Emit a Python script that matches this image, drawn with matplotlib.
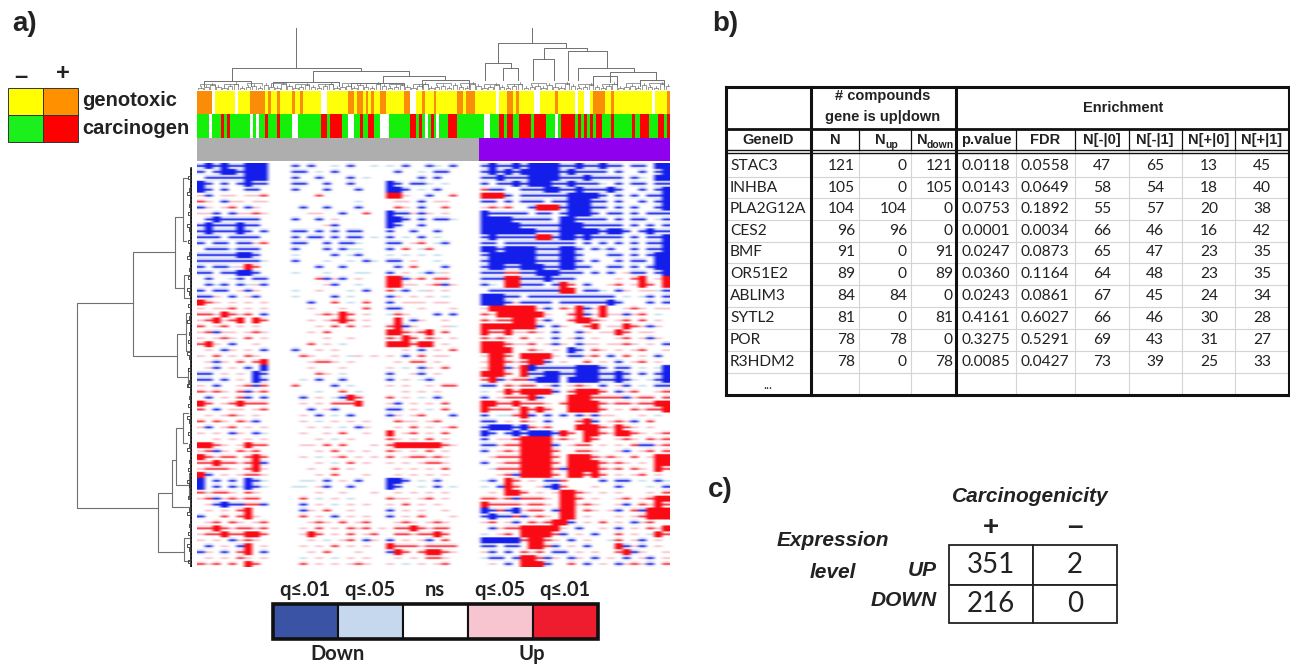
import numpy as np
import matplotlib
matplotlib.use('Agg')
import matplotlib.pyplot as plt
from matplotlib.patches import Rectangle

NARROW = ['Liberation Sans']
BODY = ['Lato', 'DejaVu Sans']

# a) sample annotation bars, runs of (class, number of compounds)
genotoxic_runs = [('o',5),('w',1),('y',7),('w',1),('y',4),('o',5),('y',1),('o',1),('y',2),('o',1),('y',4),('o',1),
                  ('y',2),('o',1),('y',6),('w',2),('y',7),('o',2),('y',1),('o',1),('o',1),('y',1),('o',1),('y',1),
                  ('o',1),('y',2),('o',2),('y',6),('o',2),('w',2),('y',2),('o',1),('y',3),('o',1),('y',7),('o',2),
                  ('y',1),('o',3),('y',2),('y',5),('w',1),('y',3),('o',2),('y',1),('o',1),('y',5),('w',2),('y',5),
                  ('o',1),('y',6),('w',1),('y',2),('w',2),('y',1),('o',4),('y',2),('o',1),('y',13),('w',1),('y',4),('o',1)]
carcinogen_runs = [('g',4),('w',1),('g',3),('r',1),('g',1),('r',1),('g',7),('w',1),('g',1),('w',1),('g',2),('r',1),
                   ('g',3),('r',1),('g',4),('w',2),('g',8),('r',2),('g',1),('r',4),('g',2),('w',2),('g',2),('r',1),
                   ('g',2),('r',2),('g',2),('w',3),('g',7),('r',2),('g',1),('r',1),('g',1),('w',1),('g',1),('r',1),
                   ('g',1),('w',1),('g',3),('r',3),('g',9),('w',2),('g',3),('r',2),('g',1),('r',2),('g',2),('r',4),
                   ('g',1),('r',4),('g',3),('w',1),('g',1),('r',5),('g',1),('r',1),('g',1),('r',1),('g',1),('r',1),
                   ('g',1),('r',2),('g',3),('r',1),('g',6),('r',1),('g',2),('r',3),('g',3),('r',2),('g',1),('r',1)]
cluster_runs = [('a',95.5),('p',64.5)]

# a) heatmap, coarse cells: B/b down, , weak down, . ns, ' weak up, r/R up
heat_top = [
 "bBbBbbBBB ... b.b..,.b..,. ,.b..b,.b ... bBbbB bBBBB bbBbbB bb.bb.BB",
 "b.bBBbBBB ... bb.,.b...... .b..,.bb. ... bBbBb BBBBB bBbbbb .b..b.bB",
 ".bbbbbBBB ... b..b...b.,.. ....b.b.. ... bbBbb bBBBB bbbBbb bb.b,.BB",
 "Bb.b.bBbb ... bb..b..b.... Bb.bb,.,. ... b.bbB bBBBb bBbbb, .b.bb.bb",
 "Bb.b..bb. ... b...b...b... BBb.,.b.. ... rbb.. bbbBB bbBbbb Bb..b.bB",
 "'b.''.''r ... ...r........ RR'..b..r ... RRRb. bbbbb bBBBBb .b.b.bbB",
 "r'.b''.'' ... ........,... .''.b.''. ... bb.b. bbb.b bBBBbb .b..b.bB",
 "b'.'r.b'. ... .b..b...b... .r'.b..r. ... 'r'r. .bRRR bBBBbb .b.b..bB",
 "''b.b''r' ... ..''..b..r.. Bbb'b'.'. ... Bbbbb b.bb. bBBBb. bb.b.bbb",
 ".bBbbbbb. ... b..b.'...... BBb.b.bb, ... BBBBb bbbb. BBbbbb .b.bb.,b",
 "bBbbbBbb. ... ....'b...... Bb..b.... ... BBBBB bbbbb BBBbbb bb.b.b.b",
 "bBbbbBb.b ... bb.b.b.bb... b..b..b.. ... BBBBB BBbbb BBBBBb BBb.bBbb",
 "bbb.bbbb. ... b.bb.b.bb.,. b.,.b.,.. ... bBbbb bbRRb BBbBbb bb.b.bbB",
 "b.bb.bb'r ... bb..b.bb,... bb.'r.,b. ... bb.bb bbbbb bb.b.b .b.b.bbB",
 ".bbb,bbb. ... b...b.b,,... b.r.,r... ... BBbBB BBbbb BBb.b, b..b.bbB",
 "bbbbbBBb. ... ,....b.,b... ,.,.,.,.. ... bBBBB BBbbb BBb... bb.b.bBB",
 "bbbbbbbb, ... b...,..,.b,. bb.'..,.. ... bBBBB BBbbb BBb.b. .b.bb.BB",
 "b.bb,'Rr. ... ...b..b..... .b.r...b. ... bBBbb BBBbb BBbb.. bb.b.bBB",
 "bb.bbBBb. ... ,...,...,,.. b.'.,b,'. ... bbbrr bbBBB bbb.b. b.'bb.bB",
 ".b..,b.bb ... ...rb'b.'... RRb'r.rr. ... bbbRR bbbBb bb.... .'.rR.'R",
 ".b,b.b,'b ... ....'b..,... RR''.'rb' ... b,.RR bbb.b Rr.b.. 'r.'Rr.R",
 "b.bb.'b'. ... ,..'...,.b.. r,b.,'.'. ... .bbbb bbbbb RR.bb, .b'.'',b",
 "bb'.b.'b. ... ,....b.,.... b'.'.'.,. ... BBBbb .bbbb bbbbbb b.,.,b.b",
 "Rr'.'.'.' ... ..b..r.,.r.. b.'''.''. ... BBBb' bbbb. bbbbbb Bb...b.b",
 "'.''r.'.' ... ..'...'..r.. bb..'...' ... 'RRRR RR'b. r'Rb'R ..'r'.''",
 "rr'Rr'r.b ... ...'r'Rr.'.. ,r'...b.b ... r'RRR RRR'. .rRb'R ''b'r.,.",
 "'rR'rR.Rr ... ..'.'rRr.'.. .R.b'..'. ... r'rrR RR'b. .rRRr' .'r.r.'.",
 "r.'r.'.'. ... ...'.r.r.'.. rRb'...', ... RRRRR RRb.b '..rR. ''Rr'b'.",
 "'rb''.'r' ... ..'.r....... RRr'rR.r. ... RrrR' 'r'.b ..b'.' 'Rr.''..",
 "'.'r'.r.' ... ....'..'.... r'Rr.r'.' ... r'r'. r.'.b .'b.'. .'r.'b'.",
 "rR'.b..'. ... ..r.'.,..... RRRrRR.'. ... RRRr' 'r.'b '.b''. ''r'.'.b",
 ".'.b'.'.b ... b..'.'...... ..'.b.'.r ... RRRR. .r'.' .Bb.r' .'.'r..'",
 "'.r.'.r'. ... .r'..'.,'.'. '.b.r.''. ... 'RRr. RRRR' .bb'r. b.r.'.b.",
 ".'b'.r.rR ... ..'rr'.'.... .'.rr.'.. ... 'RRr' rRRb. '..r.' .b.'r.'.",
]
heat_bottom = [
 ".'b.'.b.B ... ..'...'..... '.,.b'.r. ... 'RRb' RBbbb bbBBBb .bb.,.,B",
 "bb.'.'.Bb ... ...r'.,..... b..'b.'.. ... RRRr. RbbBB bbBBBb bBb.b.bB",
 "bb.b.'.Bb ... .,.b..b..... b.'.,b... ... rRb'r rbBBB .BBBBb bBb,.,bB",
 "'.b..'rbr ... r....b.,.... '.'..'.rr ... bb.r' rr.'b .'r'.b .'b.,.bb",
 "r'r'.rb'r ... ...,..r.,... ..'.'.'.. ... ,.'Rr RRRRb .rRRRr .b'r..'r",
 ".b.'.rb.b ... .b.'.,bRr... r.'.,.b.. ... b.'rr rRb.. .RRRrr rrb'rr.r",
 "Rr.'rRrrr ... .'.'.rrrR... 'b.'.'.r. ... RRrrR rrr'. rRRRRr 'rr'rrRR",
 "r.b.''.'r ... ..b.'b...... bb.'.,.r. ... Rrrr' RrRr. .RRRRr .'.r'rrR",
 ".'.'r'.'. ... .'.b.,.b.... b'.'r...b ... b.,,r Rb.b. b.b'b' '...'.,.",
 "r.r'.r'b. ... .'.,.'.'.'.. .r''.'r.. ... bb.'. r'.b. ..rRb. 'r'b.r..",
 "'b.'r.'.' ... ..'.'.,.b'.. .'.r.'.'r ... bBBBb Br'r. ..RRRr 'Rr'.'..",
 "'.'.b'.b, ... .'..'.r..'.. R.'r.'.r. ... Bb.bB bBBBb Rr.RRr 'RRr'.'r",
 "..'.'.'.' ... ...'.,.'.... r'.'.r.'. ... b.''r RRRR' r'.Rr. .'r'.r'r",
 "RRr'.'Rrr ... .''.r.r...'. rRRRRRRr' ... bb'rr RRRRb .'rr.' .'.rbb'r",
 "'rb'.r'r. ... ...'.r.'.'.. r'.'.r.'. ... b.'r' RRRRr ..rr'. .'b.'r.r",
 "Rr'rr.rRr ... .'.,.'r.'.'. r.'rr'r'. ... .'rrr RRRRr .RRRr' r'.r.'RR",
 "rrRrr'rRb ... ...'.,.r.'.. '.'.'rr'. ... b.'rr RRRRr .RRRRr 'r'.'.RR",
 "'rrr'.rR' ... ..'..r.'.... .'.'.'.r. ... .,rrr RRRRr bRRRRr 'r.r'.Rr",
 "Rb.'.'rr' ... ...'.r...'.. .'.'.'.'. ... ..'rb RRRRr .RRrRr .'.'r.'.",
 "B.b.b.Bb, ... .,,.b.'.b... BBb.,.b.. ... ,b.Rr .'.bb r....b .bb.,.b,",
 "B.b.b,Bb, ... ,,.'b..b.... Bb..,.b., ... ,.bRr ..'bB r...'. .b...,.b",
 "r'rr'.r'. ... ...'..'...'. .'.'.'.'. ... .'.RR r.'.' RRr'.' .'...'.r",
 "'rb'r'rr. ... .r.,.'.,.... r''.'r.'. ... rr'rb rrr'. RRr.'. .'r.'rRR",
 ".'bBbbrrb ... .b.'.,.'.'.. '.r.'.'.. ... Rrrrr 'rr'. RR'r'. .'b.r'Rr",
 ".'.'.rR.. ... .b'.r..'.... b.'.'..'. ... BbrbB 'rr.b RR.r'. 'b.rbRRR",
 "b..r.rR'. ... .r.'.b.'.'.. b.'.r...' ... bBbbr b'r'. RR.'.. .'.'rRRR",
 ".'r.r'.'r ... ..'r'.r.'r.. .'r'.'r'. ... 'r.'b .r'rR Rb.'.r .'.b'r..",
 "rrRr'rr'r ... .'.r.'.r'r.' .rrRr'rr. ... .b'rr RRRRR '.b..' .b.'.r'R",
 "'rrRrrRRr ... .'Rr.'.r.'r. .rr'rrRr. ... ,.'r. RRRRr b.'.b. .r.'.,Rr",
 "'.'.b'r'. ... ..'.,.'r.b'. b.'.'b.r. ... BBBBB rRRr' .b.'.. ,r.'b.'.",
 ".b.'.bR.' ... .'.'.r.'.'.. Rrrr'rrrr ... bb.bb .RRrb .'.b.. .Rb'b.'.",
 "b'.b.rR.b ... ..'.r...'... bRr.rRRr' ... 'b.b. r'r.b b.'.'. .rRb'..'",
 ".'.'.r'.' ... .,.'.,.'.'.. .'.'.rr'. ... ,bb.b RRrb' .b'.b. '.b.'b.'",
 "r'r.r.Rr. ... .r.'.'.'r'.. '.,.'.'r. ... .'.b. RRRb. .r.b.' .b'r'b.r",
]

# a) dendrogram merges: (left pos, right pos, left height, right height, top height)
col_links = [(11.8,55.5,9,19,22),(39.2,71.7,8,14,19),(62.9,83.9,8,10,14),(2.4,18.4,4,4,9),(25.8,48,4,4,8),
             (52,70,3,4,7),(76,92,3,3,10),(101.8,124.8,27,42,47),(97.4,106.2,10,22,27),(103.5,108.6,10,10,22),
             (117.4,131.9,31,39,42),(113.7,120.8,10,10,31),(125.5,138.7,10,22,39),(128.9,147.8,10,18,22),
             (139.7,155.3,8,10,18),(134,142,5,5,14),(150,158,4,4,10)]
col_stems = [(33.5,22,62),(113.3,47,62)]
row_links = [(140,345,59,34,115),(89,193,17,15,59),(54,125,9,8,17),(15,78,5,6,9),(112,135,3,3,8),
             (171,214,6,4,15),(150,188,3,3,6),(205,224,2,2,4),(330,389,20,8,34),(297,344,16,3,20),
             (265,322,9,3,16),(250,280,4,5,9),(310,335,2,2,3),(375,398,3,3,8)]
leaf_heights = [2,3,5,3,2,4,6,2,3,4,2,5,3,2,6,4]

# a) colour keys
key_colors = [['#ffff00','#ff9000'],['#1cf01c','#ff0000']]
key_names = ['genotoxic','carcinogen']
scale_labels = ['q≤.01','q≤.05','ns','q≤.05','q≤.01']
scale_colors = ['#3b53a4','#c5d8ee','#ffffff','#f7c5cf','#ee1c2e']

# b) table
table_head = ['GeneID','N','N','N','p.value','FDR','N[-|0]','N[-|1]','N[+|0]','N[+|1]']
gene_ids = ['STAC3','INHBA','PLA2G12A','CES2','BMF','OR51E2','ABLIM3','SYTL2','POR','R3HDM2']
n_all = [121,105,104,96,91,89,84,81,78,78]
n_up = [0,0,104,96,0,0,84,0,78,0]
n_down = [121,105,0,0,91,89,0,81,0,78]
p_value = ['0.0118','0.0143','0.0753','0.0001','0.0247','0.0360','0.0243','0.4161','0.3275','0.0085']
fdr = ['0.0558','0.0649','0.1892','0.0034','0.0873','0.1164','0.0861','0.6027','0.5291','0.0427']
n_m0 = [47,58,55,66,65,64,67,66,69,73]
n_m1 = [65,54,57,46,47,48,45,46,43,39]
n_p0 = [13,18,20,16,23,23,24,30,31,25]
n_p1 = [45,40,38,42,35,35,34,28,27,33]

# c) contingency counts
counts_up = [351,2]
counts_down = [216,0]

W, H = 1290, 666
fig = plt.figure(figsize=(W/100, H/100), dpi=100)

def px_axes(x0, y0, x1, y1):
    a = fig.add_axes([x0/W, 1-y1/H, (x1-x0)/W, (y1-y0)/H])
    a.axis('off')
    return a

ax = px_axes(0, 0, W, H)
ax.set_xlim(0, W)
ax.set_ylim(H, 0)

# annotation bars
bar_colors = {'o':'#fa8c08','y':'#ffff0a','w':'#ffffff','g':'#14f00a','r':'#ff0000','a':'#aeaeae','p':'#8f00ee'}
def run_bar(runs, y0, y1):
    a = px_axes(197, y0, 670, y1)
    pos = 0
    for c, n in runs:
        a.bar(pos, 1, width=n, align='edge', color=bar_colors[c], linewidth=0)
        pos += n
    a.set_xlim(0, 160)
    a.set_ylim(0, 1)
run_bar(genotoxic_runs, 91, 114)
run_bar(carcinogen_runs, 114, 138)
run_bar(cluster_runs, 138, 161)

# heatmap, weaker cells drawn as a thin streak so rows read as lines
white = (255, 255, 255)
heat_rgb = {'B': [(20,30,235)]*3,
            'b': [(215,220,250), (50,60,235), (235,238,252)],
            ',': [white, (205,228,240), white],
            '.': [white]*3,
            "'": [white, (250,200,208), white],
            'r': [(252,225,228), (250,70,80), white],
            'R': [(250,10,20)]*3}
rows = [r.replace(' ', '').ljust(60, '.')[:60] for r in heat_top + heat_bottom]
img = np.array([[heat_rgb[c][k] for c in r] for r in rows for k in range(3)], dtype=np.uint8)
ax_heat = px_axes(197, 163, 670, 567)
ax_heat.imshow(img, aspect='auto', interpolation='hanning')

# column dendrogram
lc = '#707070'
ax_top = px_axes(197, 25, 670, 90)
ax_top.set_xlim(0, 160)
ax_top.set_ylim(0, 65)
for xl, xr, hl, hr, top in col_links:
    ax_top.plot([xl, xl, xr, xr], [hl, top, top, hr], color=lc, lw=0.7)
for x, h0, h1 in col_stems:
    ax_top.plot([x, x], [h0, h1], color=lc, lw=0.7)
for i in range(0, 160, 2):
    h = leaf_heights[(i//2) % len(leaf_heights)]
    ax_top.plot([i+.5, i+.5, i+2, i+2], [0, h, h, 0], color=lc, lw=0.5)
    ax_top.plot([i+1.2, i+1.2], [h, h+2], color=lc, lw=0.5)
    if i % 8 == 0:
        ax_top.plot([i+1, i+1, i+6, i+6], [h+2, h+4, h+4, h+2], color=lc, lw=0.5)

# row dendrogram
ax_left = px_axes(70, 163, 192, 567)
ax_left.set_xlim(122, 0)
ax_left.set_ylim(404, 0)
for pa, pb, ha, hb, top in row_links:
    ax_left.plot([ha, top, top, hb], [pa, pa, pb, pb], color=lc, lw=0.8)
ax_left.plot([0.7, 0.7], [5, 404], color='#111111', lw=1.8)
for i, p in enumerate(range(5, 404, 4)):
    h = leaf_heights[i % len(leaf_heights)]
    ax_left.plot([0, h*.8, h*.8, 0], [p, p, p+3, p+3], color='#333333', lw=0.6)

# colour key top left
for r in range(2):
    for c in range(2):
        ax.add_patch(Rectangle((8+35*c, 88+27*r), 35, 27, facecolor=key_colors[r][c], edgecolor='#333333', lw=0.7))
    ax.text(82, 101+28*r, key_names[r], family=NARROW, weight='bold', fontsize=14.5, ha='left', va='center', color='#222222')
ax.text(21, 76, '–', family=NARROW, weight='bold', fontsize=17, ha='center', va='center', color='#222222')
ax.text(63, 74, '+', family=NARROW, weight='bold', fontsize=17, ha='center', va='center', color='#222222')

# q scale legend
for i, c in enumerate(scale_colors):
    ax.add_patch(Rectangle((273+65*i, 604), 65, 35, facecolor=c, edgecolor='#111111', lw=1.5))
    ax.text(305+65*i, 590, scale_labels[i], family=BODY, weight='bold', fontsize=14.5, ha='center', va='center', color='#222222')
ax.add_patch(Rectangle((273, 604), 325, 35, facecolor='none', edgecolor='#111111', lw=2.6))
ax.text(338, 654, 'Down', family=BODY, weight='bold', fontsize=14.5, ha='center', va='center', color='#222222')
ax.text(532, 654, 'Up', family=BODY, weight='bold', fontsize=14.5, ha='center', va='center', color='#222222')

# panel letters
for s, x, y in [('a)', 12, 24), ('b)', 712, 24), ('c)', 708, 490)]:
    ax.text(x, y, s, family=NARROW, weight='bold', fontsize=20, ha='left', va='center', color='#222222')

# table b
col_x = [726, 811, 859, 911, 956, 1016, 1075, 1129, 1182, 1235, 1289]
row_tops = [155, 177, 198, 220, 242, 263, 285, 307, 329, 351, 373, 395]
light = '#d4d4d4'
dark = '#111111'
for y in row_tops[1:-1]:
    ax.plot([726, 1289], [y, y], color=light, lw=0.8)
for x in col_x[2:4] + col_x[5:10]:
    ax.plot([x, x], [150, 395], color=light, lw=0.8)
    ax.plot([x, x], [129, 150], color=dark, lw=0.9)
ax.plot([726, 1289], [87, 87], color=dark, lw=2.2)
ax.plot([726, 1289], [129, 129], color=dark, lw=2)
ax.plot([726, 1289], [149.5, 149.5], color=dark, lw=1)
ax.plot([726, 1289], [152.5, 152.5], color=dark, lw=1)
ax.plot([726, 1289], [395, 395], color=dark, lw=2.2)
for x in [726, 811, 956, 1289]:
    ax.plot([x, x], [87, 395], color=dark, lw=2.2)

header_kw = dict(family=NARROW, weight='bold', fontsize=10.5, va='center', color='#222222')
ax.text(883, 96, '# compounds', ha='center', **header_kw)
ax.text(883, 117, 'gene is up|down', ha='center', **header_kw)
ax.text(1123, 108, 'Enrichment', ha='center', **header_kw)
head_x = [768, 835, 880, 922, 986, 1045, 1102, 1155, 1209, 1262]
for i, s in enumerate(table_head):
    ax.text(head_x[i], 140, s, ha='center', **header_kw)
sub_kw = {**header_kw, 'fontsize': 7.5}
ax.text(885, 145, 'up', ha='left', **sub_kw)
ax.text(927, 145, 'down', ha='left', **sub_kw)

body_kw = dict(family=BODY, fontsize=11.2, va='center', color='#222222')
for i, g in enumerate(gene_ids):
    y = (row_tops[i]+row_tops[i+1])/2 - 1 + 1
    ax.text(730, y, g, ha='left', **body_kw)
    ax.text(855, y, str(n_all[i]), ha='right', **body_kw)
    ax.text(907, y, str(n_up[i]), ha='right', **body_kw)
    ax.text(953, y, str(n_down[i]), ha='right', **body_kw)
    ax.text(986, y, p_value[i], ha='center', **body_kw)
    ax.text(1045, y, fdr[i], ha='center', **body_kw)
    for x, v in zip([1102, 1155, 1209, 1262], [n_m0[i], n_m1[i], n_p0[i], n_p1[i]]):
        ax.text(x, y, str(v), ha='center', **body_kw)
ax.text(768, 385, '...', ha='center', **{**body_kw, 'fontsize': 9})

# table c
lab_kw = dict(family=NARROW, weight='bold', style='italic', fontsize=15, va='center', color='#222222')
ax.text(1030, 497, 'Carcinogenicity', ha='center', **lab_kw)
ax.text(833, 541, 'Expression', ha='center', **lab_kw)
ax.text(833, 572, 'level', ha='center', **lab_kw)
ax.text(937, 570, 'UP', ha='right', **lab_kw)
ax.text(937, 600, 'DOWN', ha='right', **lab_kw)
ax.text(991, 528, '+', ha='center', family=NARROW, weight='bold', fontsize=20, va='center', color='#222222')
ax.text(1075, 527, '–', ha='center', family=NARROW, weight='bold', fontsize=20, va='center', color='#222222')
for x0, x1, y0, y1, v in [(949, 1033, 545, 585, counts_up[0]), (1033, 1117, 545, 585, counts_up[1]),
                          (949, 1033, 585, 623, counts_down[0]), (1033, 1117, 585, 623, counts_down[1])]:
    ax.add_patch(Rectangle((x0, y0), x1-x0, y1-y0, facecolor='white', edgecolor='#222222', lw=1.3))
    ax.text((x0+x1)/2, (y0+y1)/2, str(v), family=BODY, fontsize=20, ha='center', va='center', color='#222222')

fig.savefig('out.png', dpi=100)
